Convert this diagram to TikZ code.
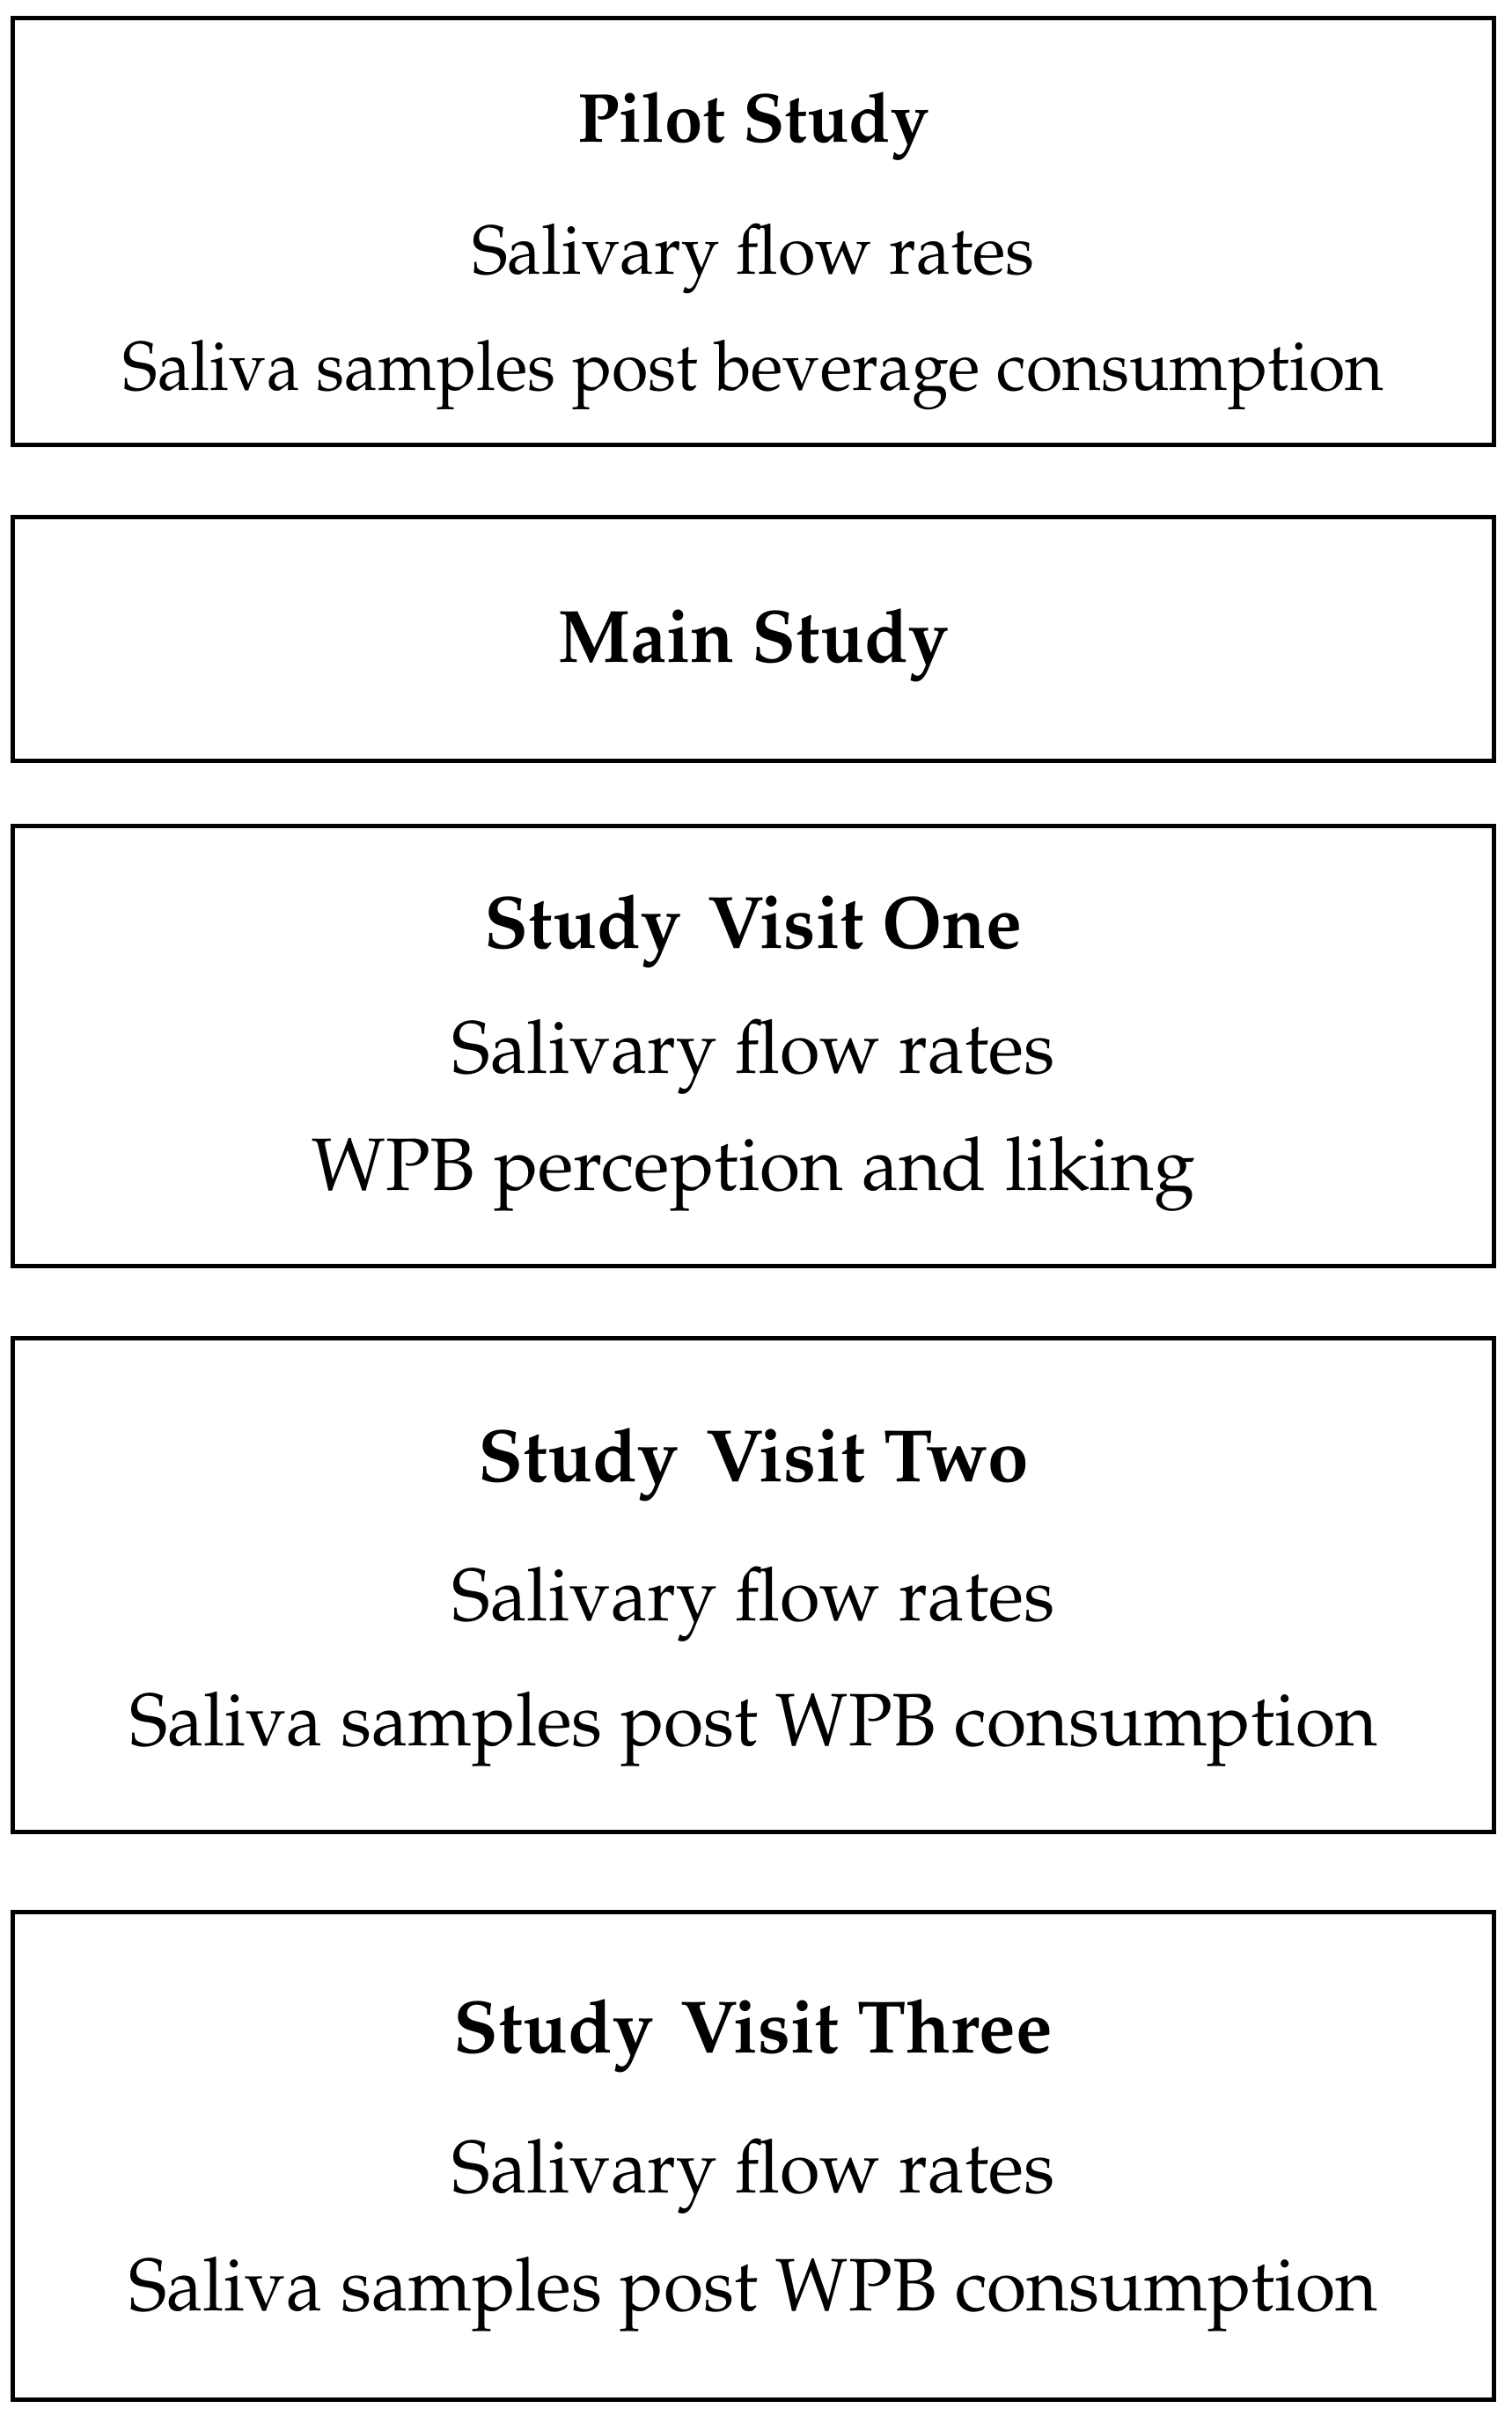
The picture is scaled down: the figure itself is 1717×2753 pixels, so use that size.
\documentclass[tikz,border=0pt]{standalone}
\usepackage[T1]{fontenc}
\usepackage{mathpazo}
\newcommand{\sqx}[2]{\scalebox{#1}[1]{#2}}
\tikzset{
  box/.style={draw=black, line width=0.05cm, minimum width=16.82cm, inner sep=0pt},
  txt/.style={anchor=base, inner sep=0pt, font=\fontsize{24}{28}\selectfont},
  txtsmall/.style={anchor=base, inner sep=0pt, font=\fontsize{22.4}{26}\selectfont},
}
\begin{document}
\begin{tikzpicture}[x=0.01cm, y=-0.01cm]
\useasboundingbox (0,0) rectangle (1717,2753);
% boxes
\node[box, minimum height=4.84cm] (b1) at (856,263) {};
\node[box, minimum height=2.76cm] (b2) at (856,726) {};
\node[box, minimum height=4.99cm] (b3) at (856,1188.5) {};
\node[box, minimum height=5.60cm] (b4) at (856,1801) {};
\node[box, minimum height=5.53cm] (b5) at (856,2449.5) {};
% box 1
\node[txtsmall] (t11) at (856,161) {\sqx{0.987}{\textbf{Pilot Study}}};
\node[txtsmall] (t12) at (856,311) {\sqx{0.986}{Salivary flow rates}};
\node[txtsmall] (t13) at (856,443) {\sqx{0.957}{Saliva samples post beverage consumption}};
% box 2
\node[txt] (t21) at (856,752) {\sqx{0.969}{\textbf{Main Study}}};
% box 3
\node[txt] (t31) at (856,1077) {\sqx{0.97}{\textbf{Study\hspace{3pt} Visit One}}};
\node[txt] (t32) at (856,1219) {\sqx{0.985}{Salivary flow rates}};
\node[txt] (t33) at (856,1352) {\sqx{0.995}{WPB perception and liking}};
% box 4
\node[txt] (t41) at (856,1683) {\sqx{0.99}{\textbf{Study\hspace{3pt} Visit Two}}};
\node[txt] (t42) at (856,1841) {\sqx{0.985}{Salivary flow rates}};
\node[txt] (t43) at (856,1983) {\sqx{0.976}{Saliva samples post WPB consumption}};
% box 5
\node[txt] (t51) at (856,2332) {\sqx{0.985}{\textbf{Study\hspace{3pt} Visit Three}}};
\node[txt] (t52) at (856,2491) {\sqx{0.985}{Salivary flow rates}};
\node[txt] (t53) at (856,2625) {\sqx{0.977}{Saliva samples post WPB consumption}};
\end{tikzpicture}
\end{document}
